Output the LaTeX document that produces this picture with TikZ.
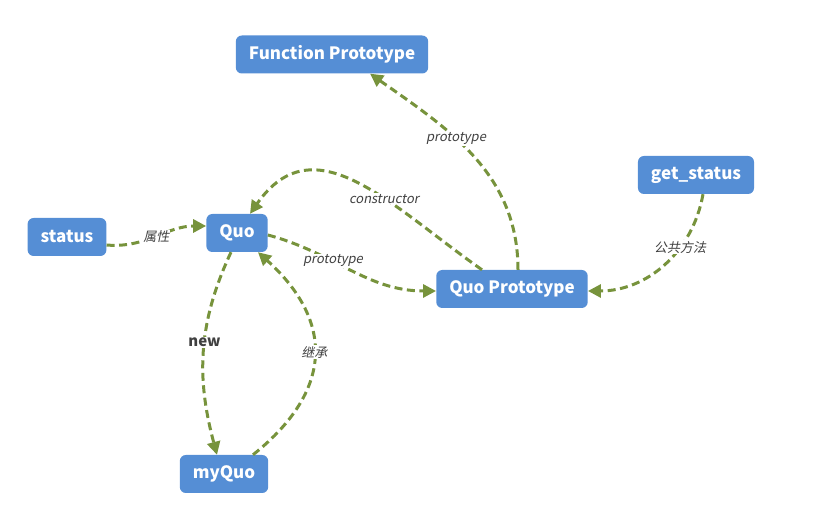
\documentclass[tikz,border=0pt]{standalone}
\usepackage{fontspec}
\setmainfont{Noto Sans CJK SC}
\newfontfamily\slfont{Noto Sans CJK SC}[FakeSlant=0.2]
\usetikzlibrary{arrows.meta,positioning}
\definecolor{clsblue}{RGB}{85,142,213}
\definecolor{relgreen}{RGB}{119,147,60}
\definecolor{labgray}{RGB}{64,64,64}
\tikzset{
  cls/.style={rectangle, rounded corners=6pt, fill=clsblue, text=white,
    font=\fontsize{17}{19}\selectfont\bfseries, inner xsep=13pt,
    minimum height=38pt},
  rel/.style={-{Triangle[length=13pt, width=13pt]}, relgreen, line width=3pt,
    dash pattern=on 8pt off 4.5pt},
  rlab/.style={font=\fontsize{13}{15}\selectfont\slfont, text=labgray,
    fill=white, inner sep=1pt},
  nlab/.style={font=\fontsize{15}{17}\selectfont\bfseries, text=labgray,
    fill=white, inner sep=1pt},
}
\begin{document}
\begin{tikzpicture}[x=1pt, y=1pt]
  \useasboundingbox (0,0) rectangle (816,527);
  % classes
  \node[cls] (fproto) at (332,472.5) {Function Prototype};
  \node[cls] (status) at (67,290) {status};
  \node[cls] (quo) at (237,294) {Quo};
  \node[cls] (getst) at (696,352) {get\_status};
  \node[cls] (qproto) at (512,238) {Quo Prototype};
  \node[cls] (myquo) at (224,53) {myQuo};
  % relations
  \draw[rel] ([yshift=-8pt]status.east) to[out=-5, in=180]
    node[rlab, pos=0.5] {属性} ([yshift=7pt]quo.west);
  \draw[rel] ([yshift=-2pt]quo.east) to[out=-15, in=180]
    node[rlab, pos=0.38] {prototype} ([yshift=-2pt]qproto.west);
  \draw[rel] ([xshift=-30pt]qproto.north) to[out=145, in=55, looseness=1.2]
    node[rlab, pos=0.38] {constructor} ([xshift=13pt]quo.north);
  \draw[rel] ([xshift=6pt]qproto.north) to[out=90, in=-35]
    node[rlab, pos=0.6] {prototype} ([xshift=38pt]fproto.south);
  \draw[rel] ([xshift=7pt]getst.south) to[out=-100, in=0]
    node[rlab, pos=0.35] {公共方法} ([yshift=-2pt]qproto.east);
  \draw[rel] ([xshift=-6pt]quo.south) to[out=-115, in=105]
    node[nlab, pos=0.45] {new} ([xshift=-7pt]myquo.north);
  \draw[rel] ([xshift=29pt]myquo.north) .. controls +(85,68) and +(72,-65) ..
    node[rlab, pos=0.5] {继承} ([xshift=21pt]quo.south);
\end{tikzpicture}
\end{document}
